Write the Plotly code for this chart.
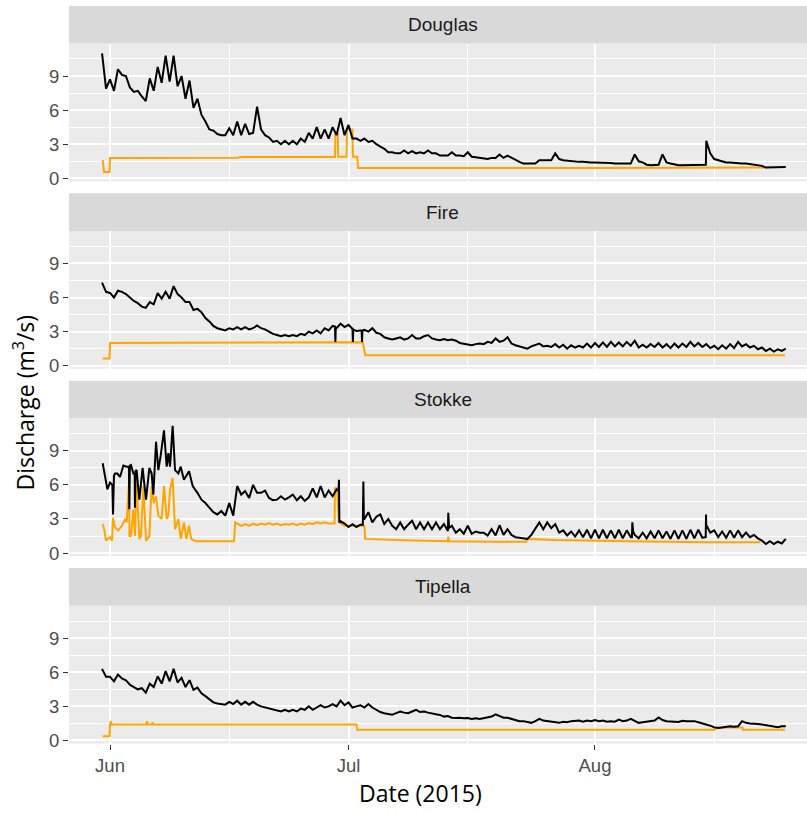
import pandas as pd
import plotly.graph_objects as go

# ---------------- data ----------------
BASE_DATE = pd.Timestamp("2015-06-01")
SITES = ["Douglas", "Fire", "Stokke", "Tipella"]
MONTH_TICKS = ["2015-06-01", "2015-07-01", "2015-08-01"]
MONTH_LABELS = ["Jun", "Jul", "Aug"]
Y_TICKS = [0, 3, 6, 9]
Y_MINOR = [1.5, 4.5, 7.5, 10.5]

# black discharge series: values every 12 h (day offsets relative to 1 June 2015)
GRID_STEP_DAY = 0.5
DOUGLAS_START = -1.0
DOUGLAS_Q = [
    11.0, 7.9, 8.7, 7.7, 9.6, 9.1, 9.0, 8.0, 7.6, 7.7, 7.2, 6.8,
    8.8, 7.7, 9.8, 8.4, 10.8, 8.5, 10.8, 8.1, 9.0, 7.0, 8.6, 6.2,
    7.0, 5.6, 5.0, 4.3, 4.2, 3.9, 3.8, 3.8, 4.4, 3.8, 5.0, 3.8,
    4.8, 3.9, 4.0, 6.3, 4.3, 3.8, 3.6, 3.2,
    3.3, 3.0, 3.3, 3.0, 3.3, 3.0, 3.5, 3.2,
    4.0, 3.5, 4.5, 3.5, 4.3, 3.5, 4.5, 3.8, 5.3, 3.8,
    4.7, 3.5, 3.5, 3.3, 3.5, 3.2, 3.3, 3.0, 2.8, 2.6,
    2.3, 2.3, 2.2, 2.2, 2.45, 2.2, 2.4, 2.2, 2.3, 2.2,
    2.45, 2.2, 2.2, 2.0, 2.0, 2.0, 2.3, 2.0, 2.0, 1.95,
    2.3, 1.9, 1.85, 1.8, 1.7, 1.7, 1.8, 1.8, 2.1, 1.8,
    2.0, 1.8, 1.6, 1.45, 1.3, 1.3, 1.3, 1.3, 1.6, 1.6,
    1.6, 1.6, 2.2, 1.7, 1.6, 1.55, 1.5, 1.45, 1.45, 1.45,
    1.4, 1.4, 1.4, 1.4, 1.35, 1.35, 1.35, 1.3, 1.3, 1.3,
    1.3, 1.3, 2.1, 1.5, 1.4, 1.2, 1.15, 1.15, 1.2, 2.1,
    1.4, 1.3, 1.2, 1.15, 1.15, 1.15, 1.15, 1.15, 1.15, 1.15,
    3.3, 2.2, 1.7, 1.6, 1.45, 1.4, 1.4, 1.35, 1.3, 1.3,
    1.3, 1.25, 1.2, 1.15, 1.1, 0.95, 0.95, 0.95, 1.0, 1.0,
    1.0,
]
DOUGLAS_EXTRA_DAY = [74.95]
DOUGLAS_EXTRA_Q = [1.2]

FIRE_START = -1.0
FIRE_Q = [
    7.3, 6.5, 6.4, 6.0, 6.6, 6.5, 6.3, 6.0, 5.7, 5.5, 5.2, 5.1,
    5.6, 5.4, 6.4, 5.9, 6.5, 5.9, 7.0, 6.3, 6.0, 5.6, 5.6, 4.9,
    5.0, 4.7, 4.2, 3.9, 3.5, 3.3, 3.2, 3.1, 3.3, 3.2, 3.4, 3.2,
    3.4, 3.2, 3.3, 3.55, 3.3, 3.2, 3.0, 2.8,
    2.7, 2.6, 2.7, 2.6, 2.7, 2.6, 2.8, 2.7,
    3.0, 2.85, 3.1, 2.85, 3.3, 3.1, 3.5, 3.3, 3.7, 3.4,
    3.6, 3.25, 3.05, 3.1, 3.15, 3.0, 3.3, 2.9, 2.8, 2.5,
    2.4, 2.3, 2.4, 2.5, 2.3, 2.4, 2.7, 2.4, 2.4, 2.6,
    2.7, 2.4, 2.3, 2.25, 2.35, 2.25, 2.3, 2.2, 2.0, 1.95,
    1.85, 1.8, 1.9, 1.95, 1.9, 2.1, 2.0, 2.4, 2.1, 2.2,
    2.5, 1.95, 1.8, 1.7, 1.6, 1.5, 1.7, 1.8, 1.95, 1.7,
    1.75, 1.65, 1.9, 1.6, 1.85, 1.5, 1.8, 1.6, 1.75, 1.6,
    1.95, 1.6, 2.0, 1.65, 2.05, 1.65, 2.1, 1.7, 2.05, 1.7,
    2.1, 1.75, 2.2, 1.6, 1.85, 1.6, 1.9, 1.65, 2.0, 1.6,
    1.9, 1.55, 1.95, 1.6, 1.95, 1.65, 2.1, 1.7, 2.0, 1.65,
    1.9, 1.55, 1.75, 1.45, 1.8, 1.5, 1.9, 1.55, 2.1, 1.7,
    1.9, 1.6, 1.75, 1.45, 1.6, 1.3, 1.5, 1.25, 1.45, 1.3,
    1.5,
]
FIRE_EXTRA_DAY = [28.3, 28.35, 28.4, 30.55, 30.6, 31.65, 31.7, 31.75]
FIRE_EXTRA_Q = [3.45, 2.1, 3.4, 2.1, 3.2, 3.1, 2.1, 3.1]

STOKKE_START = 12.0
STOKKE_Q = [
    4.4, 4.0, 3.6, 3.4, 3.7, 3.3, 4.4, 3.3, 5.9, 5.15,
    5.45, 4.85, 6.0, 5.3, 5.3, 5.5, 4.85, 4.65, 4.7, 5.0,
    4.7, 4.9, 5.15, 4.65, 5.0, 4.6, 4.9, 5.7, 4.9, 5.9,
    4.9, 5.5, 5.0, 5.6, 2.8, 2.6, 2.3, 2.55, 2.3, 2.5,
    3.0, 3.6, 2.7, 3.2, 3.4, 2.55, 3.0, 2.4, 2.1, 2.7,
    2.1, 2.5, 2.85, 2.1, 2.7, 2.1, 2.7, 2.1, 2.7, 2.1,
    2.55, 1.95, 2.4, 1.8, 2.1, 1.7, 2.4, 1.7, 1.9, 1.8,
    1.8, 1.55, 2.1, 1.55, 2.45, 1.6, 2.1, 1.6, 1.4, 1.35,
    1.3, 1.24, 1.6, 2.2, 2.7, 2.1, 2.7, 2.2, 2.55, 1.8,
    2.0, 1.55, 1.9, 1.45, 2.0, 1.4, 2.05, 1.3, 2.05, 1.3,
    2.05, 1.3, 2.0, 1.3, 2.05, 1.3, 2.0, 1.4, 1.6, 1.3,
    1.8, 1.3, 1.9, 1.3, 2.0, 1.3, 1.9, 1.25, 2.0, 1.25,
    2.0, 1.25, 2.05, 1.3, 2.05, 1.35, 2.3, 1.8, 2.0, 1.4,
    1.9, 1.35, 2.0, 1.35, 2.0, 1.4, 1.8, 1.4, 1.6, 1.3,
    1.1, 0.8, 1.05, 0.8, 1.0, 0.85, 1.25,
]
STOKKE_EXTRA_DAY = [
    -0.92, -0.5, -0.33, 0.0, 0.3, 0.38, 0.5, 0.63, 0.92, 1.26, 1.68, 2.1,
    2.38, 2.43, 2.5, 2.64, 2.94, 3.1, 3.14, 3.2, 3.35, 3.69, 4.1, 4.53,
    4.95, 5.24, 5.45, 5.79, 6.08, 6.38, 6.79, 7.13, 7.34, 7.55, 7.88, 8.18,
    8.6, 8.89, 9.3, 9.94, 10.4, 11.0, 11.5,
    28.75, 28.8, 28.85, 31.8, 31.87, 31.93, 42.55, 42.65,
    65.65, 65.7, 65.8, 74.93, 74.97, 75.05,
]
STOKKE_EXTRA_Q = [
    7.9, 6.2, 5.6, 6.2, 6.0, 3.4, 6.8, 7.0, 7.0, 6.7, 7.7, 7.6,
    7.6, 3.85, 7.7, 7.75, 7.0, 7.0, 4.0, 7.2, 7.3, 4.7, 7.5, 4.7,
    7.5, 7.0, 5.15, 9.8, 7.3, 8.6, 10.8, 7.6, 8.8, 7.6, 11.2, 7.3,
    7.0, 7.6, 6.45, 7.2, 5.9, 5.3, 4.7,
    5.5, 6.45, 2.7, 2.5, 6.3, 3.0, 3.55, 2.2,
    1.4, 2.7, 1.9, 1.4, 3.4, 2.4,
]

TIPELLA_START = -1.0
TIPELLA_Q = [
    6.3, 5.6, 5.6, 5.2, 5.8, 5.45, 5.3, 4.9, 4.7, 4.5, 4.6, 4.2,
    5.0, 4.7, 5.65, 5.0, 6.1, 5.2, 6.3, 5.1, 5.5, 4.7, 5.3, 4.45,
    4.65, 4.15, 3.9, 3.6, 3.35, 3.25, 3.2, 3.15, 3.4, 3.2, 3.5, 3.15,
    3.4, 3.15, 3.4, 3.15, 3.0, 2.9, 2.8, 2.7,
    2.6, 2.55, 2.7, 2.55, 2.7, 2.55, 2.8, 2.7,
    3.0, 2.7, 2.9, 3.1, 2.9, 3.0, 3.2, 3.0, 3.5, 3.1,
    3.35, 2.9, 3.0, 3.1, 2.9, 3.2, 2.9, 2.7, 2.5, 2.4,
    2.35, 2.26, 2.4, 2.55, 2.45, 2.4, 2.55, 2.7, 2.5, 2.55,
    2.45, 2.35, 2.3, 2.25, 2.1, 2.15, 2.0, 1.97, 2.0, 1.95,
    1.97, 1.9, 1.95, 1.9, 1.95, 2.0, 2.1, 2.3, 2.15, 2.0,
    2.0, 1.9, 1.8, 1.7, 1.7, 1.6, 1.55, 1.7, 1.9, 1.75,
    1.7, 1.65, 1.6, 1.55, 1.65, 1.6, 1.7, 1.7, 1.75, 1.65,
    1.75, 1.7, 1.8, 1.7, 1.75, 1.65, 1.7, 1.65, 1.83, 1.7,
    1.75, 1.9, 1.7, 1.55, 1.6, 1.63, 1.7, 1.75, 2.03, 1.8,
    1.7, 1.65, 1.65, 1.63, 1.74, 1.7, 1.68, 1.7, 1.6, 1.5,
    1.45, 1.3, 1.15, 1.1, 1.15, 1.2, 1.25, 1.2, 1.25, 1.7,
    1.55, 1.5, 1.5, 1.45, 1.4, 1.35, 1.25, 1.2, 1.16, 1.25,
    1.25,
]
TIPELLA_EXTRA_DAY = []
TIPELLA_EXTRA_Q = []

# orange series: read at irregular times (day offsets relative to 1 June 2015)
DOUGLAS_OR_DAY = [-0.92, -0.75, -0.05, 0.0, 16.0, 16.5, 28.3, 28.35, 28.65, 28.7,
                  29.75, 29.8, 30.5, 30.55, 31.1, 31.2, 60.0, 82.6]
DOUGLAS_OR_Q = [1.6, 0.55, 0.55, 1.8, 1.82, 1.87, 1.87, 3.9, 3.9, 1.9,
                1.9, 4.3, 4.3, 1.9, 1.9, 0.9, 0.92, 0.95]

FIRE_OR_DAY = [-0.92, -0.05, 0.0, 16.5, 17.0, 31.8, 32.1, 84.9]
FIRE_OR_Q = [0.64, 0.64, 2.0, 2.02, 2.06, 2.06, 0.93, 0.93]

STOKKE_OR_DAY = [
    -0.92, -0.7, -0.5, 0.0, 0.25, 0.38, 0.63, 1.05, 1.5, 1.9, 2.1, 2.4,
    2.45, 2.64, 2.94, 3.14, 3.35, 3.69, 3.9, 4.2, 4.53, 4.95, 5.24, 5.5,
    5.79, 6.08, 6.5, 6.8, 7.13, 7.34, 7.55, 7.88, 8.18, 8.6, 8.9, 9.3,
    9.6, 9.94, 10.2, 10.8, 15.6, 15.75, 16.5, 17.0, 17.5, 18.0, 18.5, 19.0,
    19.5, 20.0, 20.5, 21.0, 21.5, 22.0, 22.5, 23.0, 23.5, 24.0, 24.5, 25.0,
    25.5, 26.0, 26.5, 27.0, 27.5, 28.25, 28.3, 28.55, 28.8, 29.5, 32.0, 32.1,
    38.0, 42.5, 42.55, 42.65, 48.0, 52.35, 52.45, 56.0, 65.0, 75.0, 81.8,
]
STOKKE_OR_Q = [
    2.55, 2.0, 1.1, 1.4, 1.1, 3.1, 2.25, 2.0, 2.4, 3.0, 2.7, 6.45,
    1.5, 1.5, 3.85, 1.5, 6.2, 1.24, 1.5, 5.9, 1.1, 1.5, 5.9, 4.4,
    5.0, 3.3, 3.0, 5.9, 3.0, 3.3, 5.6, 6.6, 2.1, 3.0, 1.25, 2.7,
    1.25, 2.4, 1.25, 1.05, 1.05, 2.7, 2.4, 2.55, 2.4, 2.6, 2.45, 2.6,
    2.5, 2.65, 2.5, 2.6, 2.45, 2.55, 2.5, 2.6, 2.45, 2.6, 2.5, 2.65,
    2.55, 2.7, 2.6, 2.7, 2.6, 2.6, 5.7, 5.7, 2.7, 2.4, 2.4, 1.25,
    1.1, 1.05, 1.45, 1.05, 1.0, 1.0, 1.25, 1.15, 1.05, 0.95, 0.95,
]

TIPELLA_OR_DAY = [-0.92, -0.05, 0.0, 0.1, 0.2, 4.6, 4.65, 4.75, 5.3, 5.35, 5.45,
                  31.0, 31.1, 76.1, 76.15, 79.55, 79.6, 84.9]
TIPELLA_OR_Q = [0.38, 0.38, 1.4, 1.7, 1.4, 1.4, 1.7, 1.4, 1.4, 1.6, 1.4,
                1.4, 0.95, 0.95, 1.15, 1.15, 0.95, 0.95]

BLACK = {
    "Douglas": (DOUGLAS_START, DOUGLAS_Q, DOUGLAS_EXTRA_DAY, DOUGLAS_EXTRA_Q),
    "Fire": (FIRE_START, FIRE_Q, FIRE_EXTRA_DAY, FIRE_EXTRA_Q),
    "Stokke": (STOKKE_START, STOKKE_Q, STOKKE_EXTRA_DAY, STOKKE_EXTRA_Q),
    "Tipella": (TIPELLA_START, TIPELLA_Q, TIPELLA_EXTRA_DAY, TIPELLA_EXTRA_Q),
}
ORANGE = {
    "Douglas": (DOUGLAS_OR_DAY, DOUGLAS_OR_Q),
    "Fire": (FIRE_OR_DAY, FIRE_OR_Q),
    "Stokke": (STOKKE_OR_DAY, STOKKE_OR_Q),
    "Tipella": (TIPELLA_OR_DAY, TIPELLA_OR_Q),
}

# ---------------- helpers ----------------
def to_dates(days):
    return [BASE_DATE + pd.Timedelta(days=float(d)) for d in days]


def black_series(start, grid, extra_day, extra_q):
    assert len(extra_day) == len(extra_q)
    pts = [(start + GRID_STEP_DAY * i, q) for i, q in enumerate(grid)]
    pts += list(zip(extra_day, extra_q))
    pts.sort(key=lambda p: p[0])
    return to_dates([p[0] for p in pts]), [p[1] for p in pts]


assert len(DOUGLAS_Q) == 173 and len(FIRE_Q) == 173 and len(TIPELLA_Q) == 173
assert len(STOKKE_Q) == 147
for k, (d, q) in ORANGE.items():
    assert len(d) == len(q), k

# ---------------- layout geometry ----------------
W, H = 807, 813
PANEL_LEFT = 69
PANEL_TOPS = [44, 233, 422, 611]
PANEL_H = 139
STRIP_H = 38
X_RANGE = [BASE_DATE + pd.Timedelta(days=-5.157), BASE_DATE + pd.Timedelta(days=87.67)]
Y_RANGE = [-0.27, 11.85]

TICK_FONT = dict(family="Liberation Sans, Arial, sans-serif", size=18.5, color="#4D4D4D")
TITLE_FONT = dict(family="Open Sans, sans-serif", size=23, color="#000000")

fig = go.Figure()
layout = dict(
    width=W, height=H,
    margin=dict(l=0, r=0, t=0, b=0),
    paper_bgcolor="white",
    plot_bgcolor="#EBEBEB",
    showlegend=False,
    shapes=[], annotations=[],
)

for i, site in enumerate(SITES):
    n = i + 1
    xa, ya = f"x{n}", f"y{n}"
    od, oq = ORANGE[site]
    fig.add_trace(go.Scatter(x=to_dates(od), y=oq, mode="lines",
                             line=dict(color="#FFA500", width=2),
                             xaxis=xa, yaxis=ya, hoverinfo="skip"))
    bx, by = black_series(*BLACK[site])
    fig.add_trace(go.Scatter(x=bx, y=by, mode="lines",
                             line=dict(color="#000000", width=2),
                             xaxis=xa, yaxis=ya, hoverinfo="skip"))

    top = PANEL_TOPS[i]
    bottom = top + PANEL_H
    bottom_panel = (n == len(SITES))
    layout[f"xaxis{n}"] = dict(
        domain=[PANEL_LEFT / W, 1.0], anchor=ya, type="date", range=X_RANGE,
        tickvals=MONTH_TICKS, ticktext=MONTH_LABELS,
        showticklabels=bottom_panel, ticks="outside" if bottom_panel else "",
        ticklen=5, tickwidth=1.2, tickcolor="#333333", tickfont=TICK_FONT,
        showgrid=True, gridcolor="white", gridwidth=1.8,
        minor=dict(tick0="2015-05-16", dtick="M1", showgrid=True,
                   gridcolor="white", gridwidth=0.9),
        zeroline=False, showline=False, fixedrange=True,
    )
    layout[f"yaxis{n}"] = dict(
        domain=[1 - bottom / H, 1 - top / H], anchor=xa, range=Y_RANGE,
        tickvals=Y_TICKS, ticktext=[str(v) for v in Y_TICKS],
        ticks="outside", ticklen=5, tickwidth=1.2, tickcolor="#333333",
        tickfont=TICK_FONT,
        showgrid=True, gridcolor="white", gridwidth=1.8,
        minor=dict(tickvals=Y_MINOR, showgrid=True, gridcolor="white", gridwidth=0.9),
        zeroline=False, showline=False, fixedrange=True,
    )
    layout["shapes"].append(dict(
        type="rect", xref="paper", yref="paper",
        x0=PANEL_LEFT / W, x1=1.0,
        y0=1 - top / H, y1=1 - (top - STRIP_H) / H,
        fillcolor="#D9D9D9", line=dict(width=0), layer="below"))
    layout["annotations"].append(dict(
        text=site, xref="paper", yref="paper",
        x=443 / W, y=1 - (top - STRIP_H / 2) / H,
        xanchor="center", yanchor="middle", showarrow=False,
        font=dict(family="Liberation Sans, Arial, sans-serif", size=19, color="#1A1A1A")))

layout["annotations"].append(dict(
    text="Discharge (m<sup>3</sup>/s)", xref="paper", yref="paper",
    x=24 / W, y=1 - 406 / H, textangle=-90,
    xanchor="center", yanchor="middle", showarrow=False, font=TITLE_FONT))
layout["annotations"].append(dict(
    text="Date (2015)", xref="paper", yref="paper",
    x=420 / W, y=1 - 800 / H,
    xanchor="center", yanchor="middle", showarrow=False, font=TITLE_FONT))

fig.update_layout(**layout)
fig.write_html("out.html")
